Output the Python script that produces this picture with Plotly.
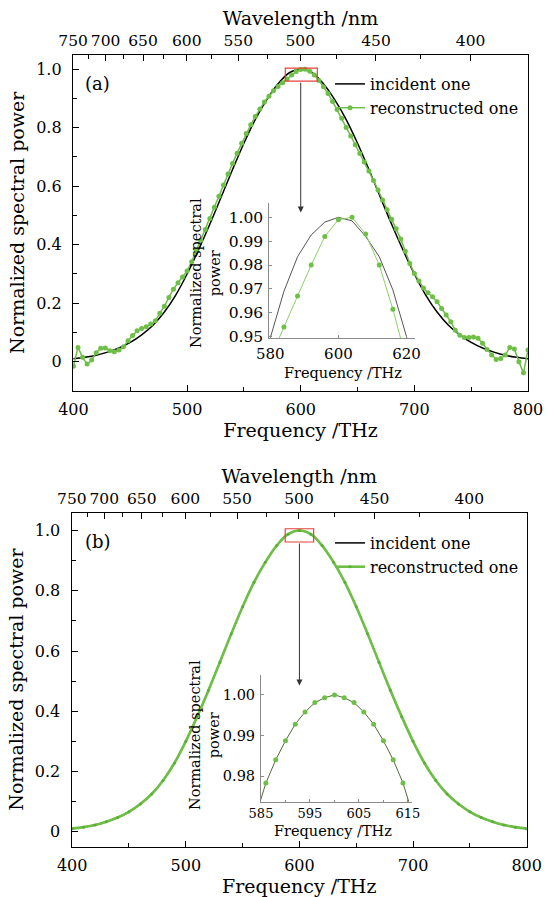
import plotly.graph_objects as go

W, H = 547, 897
SERIF = "DejaVu Serif"
GREEN = "#6dbf45"
GREEN_THIN = "#8ccf68"
C_LIGHT = 299792.458  # nm*THz, converts wavelength to frequency for the top axis

# ---------------- data ----------------
freq_coarse = list(range(400, 801, 10))
incident = [0.010, 0.015, 0.022, 0.033, 0.047, 0.066, 0.092, 0.125, 0.170, 0.228,
            0.300, 0.382, 0.470, 0.563, 0.657, 0.747, 0.828, 0.895, 0.950, 0.988,
            1.000, 0.988, 0.950, 0.895, 0.828, 0.747, 0.657, 0.563, 0.470, 0.382,
            0.300, 0.228, 0.170, 0.125, 0.092, 0.066, 0.047, 0.033, 0.022, 0.015,
            0.010]

freq_a = list(range(400, 801, 4))
recon_a = [-0.015, 0.049, 0.015, -0.008, 0.006, 0.031, 0.046, 0.047, 0.038, 0.034,
           0.040, 0.051, 0.072, 0.090, 0.106, 0.114, 0.120, 0.129, 0.140, 0.166,
           0.190, 0.220, 0.248, 0.270, 0.290, 0.310, 0.342, 0.380, 0.415, 0.452,
           0.490, 0.528, 0.566, 0.604, 0.642, 0.678, 0.713, 0.747, 0.780, 0.810,
           0.838, 0.864, 0.888, 0.908, 0.926, 0.941, 0.954, 0.967, 0.980, 0.992,
           0.999, 1.000, 0.993, 0.980, 0.9615, 0.940, 0.917, 0.890, 0.862, 0.832,
           0.801, 0.772, 0.742, 0.712, 0.683, 0.652, 0.620, 0.587, 0.553, 0.520,
           0.487, 0.455, 0.420, 0.378, 0.336, 0.302, 0.276, 0.252, 0.236, 0.222,
           0.205, 0.182, 0.160, 0.137, 0.108, 0.091, 0.083, 0.083, 0.085, 0.080,
           0.063, 0.042, 0.023, 0.008, 0.011, 0.023, 0.049, 0.044, 0.000, -0.038,
           0.040]

inset_a_freq = [576, 580, 584, 588, 592, 596, 600, 604, 608, 612, 616, 620, 624]
inset_a_incident = [0.930, 0.950, 0.969, 0.9835, 0.9926, 0.998, 1.000, 0.9985,
                    0.992, 0.9835, 0.9696, 0.950, 0.930]

inset_b_freq = [584, 586, 588, 590, 592, 594, 596, 598, 600, 602, 604, 606, 608,
                610, 612, 614, 616]
inset_b_incident = [0.9705, 0.9783, 0.9840, 0.9887, 0.9928, 0.9958, 0.9981, 0.9993,
                    1.0000, 0.9993, 0.9981, 0.9958, 0.9928, 0.9887, 0.9840, 0.9783,
                    0.9705]
inset_b_rfreq = inset_b_freq[1:-1]
inset_b_recon = inset_b_incident[1:-1]

wl_major = [750, 700, 650, 600, 550, 500, 450, 400]
wl_minor = [725, 675, 625, 575, 525, 475, 425]
freq_major = [400, 500, 600, 700, 800]
freq_minor = [450, 550, 650, 750]
power_major = [0, 0.2, 0.4, 0.6, 0.8, 1.0]
power_labels = ["0", "0.2", "0.4", "0.6", "0.8", "1.0"]
power_minor = [0.1, 0.3, 0.5, 0.7, 0.9]

# zoom boxes (region shown in the insets)
box_a = dict(x0=586.4, x1=614.6, y0=0.959, y1=1.004)
box_b = dict(x0=587.5, x1=612.5, y0=0.962, y1=1.006)

FREQ_RANGE = [399.6, 800]


def px_x(a, b):
    return [a / W, b / W]


def px_y(top, bottom):
    return [1 - bottom / H, 1 - top / H]


tickfont = dict(family=SERIF, size=16, color="black")
toptickfont = dict(family=SERIF, size=15.5, color="black")
titlefont = dict(family=SERIF, size=19, color="black")

fig = go.Figure()

# ---------- panel (a) ----------
fig.add_trace(go.Scatter(x=freq_coarse, y=incident, mode="lines", name="incident one",
                         line=dict(color="black", width=1.5, shape="spline"),
                         xaxis="x", yaxis="y", legend="legend"))
fig.add_trace(go.Scatter(x=freq_a, y=recon_a, mode="lines+markers", name="reconstructed one",
                         line=dict(color=GREEN, width=1.5), marker=dict(size=5, color=GREEN),
                         xaxis="x", yaxis="y", legend="legend"))
fig.add_trace(go.Scatter(x=[400, 800], y=[0, 0], mode="markers", marker=dict(opacity=0),
                         showlegend=False, hoverinfo="skip", xaxis="x2", yaxis="y"))
# inset (a)
fig.add_trace(go.Scatter(x=inset_a_freq, y=inset_a_incident, mode="lines",
                         line=dict(color="#555555", width=1), showlegend=False,
                         xaxis="x3", yaxis="y3"))
ia = [i for i, f in enumerate(freq_a) if 576 <= f <= 624]
fig.add_trace(go.Scatter(x=[freq_a[i] for i in ia], y=[recon_a[i] for i in ia],
                         mode="lines+markers", line=dict(color=GREEN_THIN, width=1),
                         marker=dict(size=5, color=GREEN), showlegend=False,
                         xaxis="x3", yaxis="y3"))

# ---------- panel (b) ----------
fig.add_trace(go.Scatter(x=freq_coarse, y=incident, mode="lines", name="incident one",
                         line=dict(color="black", width=1.5, shape="spline"),
                         xaxis="x4", yaxis="y4", legend="legend2"))
fig.add_trace(go.Scatter(x=freq_coarse, y=incident, mode="lines+markers", name="reconstructed one",
                         line=dict(color=GREEN, width=2.6, shape="spline"),
                         marker=dict(size=3, color="#5aae36"),
                         xaxis="x4", yaxis="y4", legend="legend2"))
fig.add_trace(go.Scatter(x=[400, 800], y=[0, 0], mode="markers", marker=dict(opacity=0),
                         showlegend=False, hoverinfo="skip", xaxis="x5", yaxis="y4"))
# inset (b)
fig.add_trace(go.Scatter(x=inset_b_freq, y=inset_b_incident, mode="lines",
                         line=dict(color="#556b3a", width=1), showlegend=False,
                         xaxis="x6", yaxis="y6"))
fig.add_trace(go.Scatter(x=inset_b_rfreq, y=inset_b_recon, mode="markers",
                         marker=dict(size=5, color=GREEN), showlegend=False,
                         xaxis="x6", yaxis="y6"))


def main_x(domain, anchor, title_standoff):
    return dict(domain=domain, anchor=anchor, range=FREQ_RANGE, tickmode="array",
                tickvals=freq_major, ticks="inside", ticklen=6, tickwidth=1.2,
                tickcolor="black", tickangle=0, automargin=False,
                minor=dict(tickmode="array", tickvals=freq_minor, ticks="inside",
                           ticklen=4, tickwidth=1.2, tickcolor="black"),
                showline=True, linecolor="black", linewidth=1.4, mirror=False,
                showgrid=False, zeroline=False, tickfont=tickfont,
                ticklabelstandoff=4,
                title=dict(text="Frequency /THz", font=titlefont, standoff=title_standoff))


def top_x(over, anchor):
    return dict(overlaying=over, anchor=anchor, side="top", range=FREQ_RANGE,
                tickmode="array", tickvals=[C_LIGHT / w for w in wl_major],
                ticktext=[str(w) for w in wl_major], ticks="inside", ticklen=6,
                tickwidth=1.2, tickcolor="black", tickangle=0, automargin=False,
                minor=dict(tickmode="array", tickvals=[C_LIGHT / w for w in wl_minor],
                           ticks="inside", ticklen=4, tickwidth=1.2, tickcolor="black"),
                showline=True, linecolor="black", linewidth=1.4, showgrid=False,
                zeroline=False, tickfont=toptickfont, ticklabelstandoff=1,
                title=dict(text="Wavelength /nm", font=titlefont, standoff=1))


def main_y(domain, anchor, rng):
    return dict(domain=domain, anchor=anchor, range=rng, tickmode="array",
                tickvals=power_major, ticktext=power_labels, ticks="inside", ticklen=6,
                tickwidth=1.2, tickcolor="black", automargin=False,
                minor=dict(tickmode="array", tickvals=power_minor, ticks="inside",
                           ticklen=4, tickwidth=1.2, tickcolor="black"),
                showline=True, linecolor="black", linewidth=1.4, mirror=True,
                showgrid=False, zeroline=False, tickfont=tickfont, ticklabelstandoff=7,
                title=dict(text="Normalized spectral power", font=titlefont, standoff=6))


def inset_axis(domain, anchor, rng, tickvals, ticktext, size, standoff=2):
    return dict(domain=domain, anchor=anchor, range=rng, tickmode="array",
                tickvals=tickvals, ticktext=ticktext, ticks="inside", ticklen=3,
                tickwidth=1, tickcolor="#8a8a8a", showline=True, linecolor="#8a8a8a",
                linewidth=1, showgrid=False, zeroline=False, tickangle=0,
                automargin=False,
                tickfont=dict(family=SERIF, size=size, color="black"),
                ticklabelstandoff=standoff)


a_x = px_x(73, 528)
a_y = px_y(54.6, 391)
b_x = px_x(71.7, 526.7)
b_y = px_y(512.5, 846.7)

ia_x = px_x(269.3, 415)
ia_y = px_y(203, 338.3)
ib_x = px_x(261, 412.3)
ib_y = px_y(675, 801.7)

fig.update_layout(
    width=W, height=H, margin=dict(l=0, r=0, t=0, b=0, autoexpand=False),
    paper_bgcolor="white", plot_bgcolor="rgba(0,0,0,0)",
    font=dict(family=SERIF, color="black"),
    xaxis=main_x(a_x, "y", 5),
    xaxis2=top_x("x", "y"),
    yaxis=main_y(a_y, "x", [-0.1, 1.05]),
    xaxis3=inset_axis(ia_x, "y3", [579.7, 622.5], [580, 600, 620],
                      ["580", "600", "620"], 15),
    yaxis3=inset_axis(ia_y, "x3", [0.9493, 1.006],
                      [0.95, 0.96, 0.97, 0.98, 0.99, 1.00],
                      ["0.95", "0.96", "0.97", "0.98", "0.99", "1.00"], 15.5),
    xaxis4=main_x(b_x, "y4", 4),
    xaxis5=top_x("x4", "y4"),
    yaxis4=main_y(b_y, "x4", [-0.05, 1.06]),
    xaxis6=inset_axis(ib_x, "y6", [585, 615.9], [585, 595, 605, 615],
                      ["585", "595", "605", "615"], 13, 0),
    yaxis6=inset_axis(ib_y, "x6", [0.9737, 1.0049], [0.98, 0.99, 1.00],
                      ["0.98", "0.99", "1.00"], 14.5),
    legend=dict(x=330 / W, y=1 - 67 / H, xanchor="left", yanchor="top",
                bgcolor="rgba(0,0,0,0)", font=dict(family=SERIF, size=16),
                tracegroupgap=0, itemwidth=30),
    legend2=dict(x=330 / W, y=1 - 526 / H, xanchor="left", yanchor="top",
                 bgcolor="rgba(0,0,0,0)", font=dict(family=SERIF, size=16),
                 tracegroupgap=0, itemwidth=30),
    showlegend=True,
)

fig.update_layout(xaxis6=dict(minor=dict(tickmode="array", tickvals=[590, 600, 610],
                                         ticks="inside", ticklen=2, tickcolor="#8a8a8a")))

# zoom boxes
for box, xr, yr in [(box_a, "x", "y"), (box_b, "x4", "y4")]:
    fig.add_shape(type="rect", xref=xr, yref=yr, line=dict(color="#e8403a", width=1.2),
                  **box)


def label(text, x, y, size, angle=0, xanchor="center"):
    return dict(text=text, x=x / W, y=1 - y / H, xref="paper", yref="paper",
                xanchor=xanchor, yanchor="middle", showarrow=False, align="center",
                textangle=angle, font=dict(family=SERIF, size=size, color="black"))


annotations = [
    label("(a)", 83, 84, 18, xanchor="left"),
    label("(b)", 83, 541, 18, xanchor="left"),
    # arrows from zoom boxes toward insets
    dict(x=600, y=0.51, ax=600, ay=box_a["y0"], xref="x", yref="y", axref="x", ayref="y",
         text="", showarrow=True, arrowhead=2, arrowsize=1.2, arrowwidth=1,
         arrowcolor="#333333"),
    dict(x=600, y=0.485, ax=600, ay=box_b["y0"], xref="x4", yref="y4", axref="x4",
         ayref="y4", text="", showarrow=True, arrowhead=2, arrowsize=1.2, arrowwidth=1,
         arrowcolor="#333333"),
    # inset titles
    label("Normalized spectral<br>power", 205, 273, 14.5, angle=-90),
    label("Frequency /THz", 343, 373, 14.5),
    label("Normalized spectral<br>power", 204, 735, 14.5, angle=-90),
    label("Frequency /THz", 333, 831, 14.5),
]
fig.update_layout(annotations=annotations)

fig.write_html("out.html")
